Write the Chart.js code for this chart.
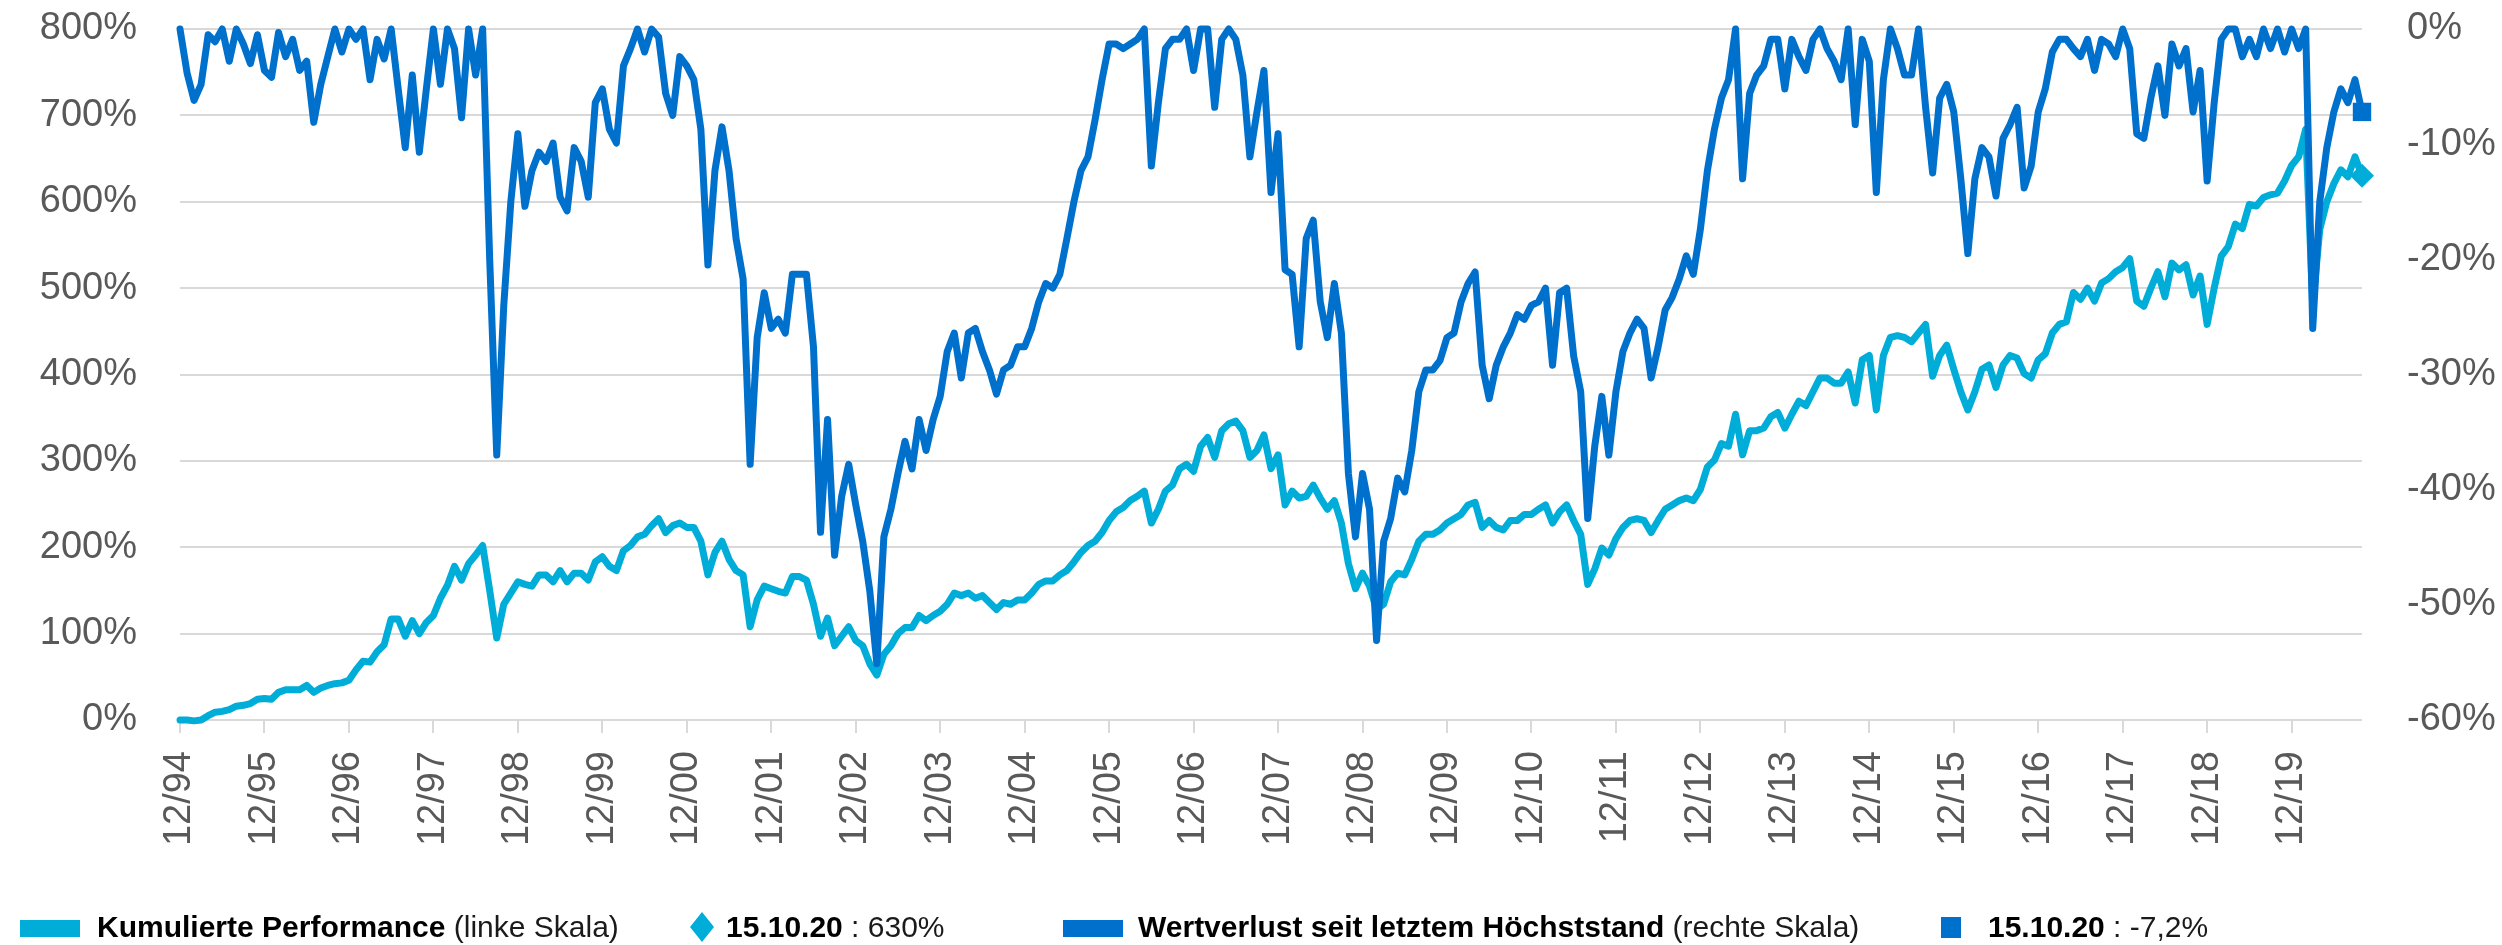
<!DOCTYPE html>
<html>
<head>
<meta charset="utf-8">
<script src="https://cdn.jsdelivr.net/npm/chart.js@4"></script>
<style>
  body { margin: 0; background: #fff; }
  #wrap { position: relative; width: 2502px; height: 945px; }
  #legend span { position: absolute; }
  .txt { top: 912px; font: 30px/30px "Liberation Sans", Arial, sans-serif; color: #1a1a1a; white-space: nowrap; }
  .txt b { color: #000; }
  .box { top: 920px; width: 60px; height: 17px; }
  .diamond { top: 912px; width: 24px; height: 30px; background: #00ADD8; clip-path: polygon(50% 0, 100% 50%, 50% 100%, 0 50%); }
  .sq { top: 917px; width: 20px; height: 21px; background: #0070CD; }
</style>
</head>
<body>
<div id="wrap">
  <canvas id="myChart" width="2502" height="945"></canvas>
  <div id="legend">
    <span class="box" style="left:20px;background:#00ADD8"></span>
    <span class="txt" style="left:97px"><b>Kumulierte Performance</b> (linke Skala)</span>
    <span class="diamond" style="left:690px"></span>
    <span class="txt" style="left:726px"><b>15.10.20</b> : 630%</span>
    <span class="box" style="left:1063px;background:#0070CD"></span>
    <span class="txt" style="left:1138px"><b>Wertverlust seit letztem Höchststand</b> (rechte Skala)</span>
    <span class="sq" style="left:1941px"></span>
    <span class="txt" style="left:1988px"><b>15.10.20</b> : -7,2%</span>
  </div>
</div>
<script>
// year ticks shown on the x axis (every December)
const yearTicks = ['12/94','12/95','12/96','12/97','12/98','12/99','12/00','12/01','12/02','12/03',
  '12/04','12/05','12/06','12/07','12/08','12/09','12/10','12/11','12/12','12/13',
  '12/14','12/15','12/16','12/17','12/18','12/19'];

// monthly values, 12/94 ... 10/20 (cumulative performance in %, left scale)
const performance = [
  0, 0, -1, 0, 5, 9, 10, 12, 16, 17, 19, 24,
  25, 24, 32, 35, 35, 35, 40, 32, 37, 40, 42, 43,
  46, 58, 68, 67, 79, 87, 117, 117, 97, 115, 100, 113,
  121, 141, 156, 178, 162, 181, 191, 202, 150, 95, 134, 147,
  160, 157, 155, 168, 168, 160, 173, 160, 170, 170, 162, 183,
  189, 178, 173, 196, 202, 212, 215, 225, 233, 217, 225, 228,
  223, 223, 207, 168, 194, 207, 186, 173, 168, 108, 139, 155,
  152, 149, 147, 166, 166, 162, 134, 97, 118, 86, 97, 108,
  92, 86, 65, 52, 76, 86, 100, 107, 107, 121, 115, 121,
  126, 134, 147, 144, 147, 141, 144, 136, 128, 136, 134, 139,
  139, 147, 157, 161, 161, 168, 173, 183, 194, 202, 207, 217,
  231, 241, 246, 254, 259, 265, 228, 244, 265, 272, 291, 296,
  288, 317, 327, 304, 335, 343, 346, 335, 304, 312, 330, 291,
  307, 249, 265, 257, 259, 272, 257, 244, 254, 228, 181, 152,
  170, 155, 128, 134, 160, 170, 168, 186, 207, 215, 215, 220,
  228, 233, 238, 249, 252, 223, 231, 223, 220, 231, 231, 238,
  238, 244, 249, 228, 241, 249, 231, 215, 157, 175, 199, 191,
  210, 223, 231, 233, 231, 217, 231, 244, 249, 254, 257, 254,
  267, 293, 301, 320, 317, 354, 307, 335, 335, 338, 351, 356,
  338, 354, 369, 364, 380, 396, 396, 390, 390, 403, 367, 417,
  422, 359, 422, 443, 445, 443, 438, 448, 458, 398, 422, 434,
  406, 380, 359, 380, 406, 411, 385, 411, 422, 419, 401, 396,
  417, 424, 448, 458, 461, 495, 487, 500, 485, 506, 511, 519,
  524, 534, 485, 479, 500, 519, 490, 529, 521, 527, 492, 514,
  458, 500, 537, 548, 574, 569, 597, 595, 605, 608, 610, 624,
  642, 652, 684, 480, 568, 600, 621, 637, 629, 652, 630
];

// drawdown since last high in %, right scale
const drawdown = [
  0, -3.8, -6.2, -4.8, -0.5, -1.1, 0, -2.8, 0, -1.3, -3, -0.5,
  -3.6, -4.2, -0.3, -2.4, -0.9, -3.6, -2.8, -8.1, -4.8, -2.4, 0, -2,
  0, -0.9, 0, -4.4, -0.9, -2.6, 0, -5.2, -10.3, -4, -10.7, -5.2,
  0, -4.8, 0, -1.7, -7.7, 0, -4, 0, -20, -37, -24, -15,
  -9.1, -15.4, -12.3, -10.7, -11.5, -9.9, -14.6, -15.8, -10.3, -11.5, -14.6, -6.4,
  -5.2, -8.7, -9.9, -3.2, -1.7, 0, -2, 0, -0.7, -5.6, -7.5, -2.4,
  -3.2, -4.4, -8.7, -20.5, -12.3, -8.5, -12.3, -18.2, -21.7, -37.8, -26.8, -22.9,
  -26, -25.2, -26.4, -21.3, -21.3, -21.3, -27.6, -43.7, -33.9, -45.7, -40.6, -37.8,
  -41.3, -44.5, -48.8, -55.1, -44.1, -41.7, -38.6, -35.8, -38.2, -33.9, -36.6, -33.9,
  -31.9, -28, -26.4, -30.3, -26.4, -26, -28, -29.6, -31.7, -29.6, -29.2, -27.6,
  -27.6, -26, -23.7, -22.1, -22.5, -21.3, -18.2, -15, -12.3, -11.1, -7.9, -4.4,
  -1.3, -1.3, -1.7, -1.3, -0.9, 0, -11.9, -6.4, -1.7, -0.9, -0.9, 0,
  -3.6, 0, 0, -6.8, -0.9, 0, -0.9, -4, -11.1, -7.2, -3.6, -14.2,
  -9.1, -20.9, -21.3, -27.6, -18.2, -16.6, -23.7, -26.8, -22.1, -26.4, -38.6, -44.1,
  -38.6, -41.7, -53.1, -44.5, -42.5, -39, -40.2, -36.6, -31.5, -29.6, -29.6, -28.8,
  -26.8, -26.4, -23.7, -22.1, -21.1, -29.2, -32.1, -29.2, -27.6, -26.4, -24.8, -25.2,
  -24, -23.7, -22.5, -29.2, -22.9, -22.5, -28.4, -31.5, -42.5, -36.2, -31.9, -37,
  -31.5, -28, -26.4, -25.2, -26, -30.3, -27.6, -24.4, -23.3, -21.7, -19.7, -21.3,
  -17.4, -12.3, -8.7, -6, -4.4, 0, -13, -5.6, -4, -3.2, -0.9, -0.9,
  -5.2, -0.9, -2.4, -3.6, -0.9, 0, -1.7, -2.8, -4.4, 0, -8.3, -0.9,
  -2.8, -14.2, -4.4, 0, -1.7, -4, -4, 0, -6.8, -12.5, -6, -4.8,
  -7.2, -13, -19.5, -13, -10.3, -11.1, -14.5, -9.5, -8.3, -6.8, -13.8, -11.9,
  -7.2, -5.2, -2, -0.9, -0.9, -1.7, -2.4, -0.9, -3.6, -0.9, -1.3, -2.4,
  0, -1.7, -9.1, -9.5, -6, -3.2, -7.5, -1.3, -3.2, -1.7, -7.2, -3.6,
  -13.2, -6.4, -0.9, 0, 0, -2.4, -0.9, -2.4, 0, -1.7, 0, -2,
  0, -1.7, 0, -26, -15, -10.3, -7.2, -5.2, -6.4, -4.4, -7.2
];

// month categories 12/94 .. 10/20
const months = [];
for (let i = 0; i < performance.length; i++) {
    const m = (11 + i) % 12 + 1;
    const y = (1994 + Math.floor((11 + i) / 12)) % 100;
    months.push(String(m).padStart(2, '0') + '/' + String(y).padStart(2, '0'));
}

const last = performance.length - 1;
const tickFont = { family: '"Liberation Sans", Arial, sans-serif', size: 38 };
const gridColor = '#d9d9d9';

// fixed axis sizes; tick padding must not push the plot area down
function fixWidth(w) {
    return function (s) {
        s.width = w;
        s.paddingTop = 0;
        s.paddingBottom = 0;
    };
}

const ctx = document.getElementById('myChart');

new Chart(ctx, {
    type: 'line',
    data: {
        labels: months,
        datasets: [{
            label: 'Wertverlust seit letztem Höchststand',
            data: drawdown,
            yAxisID: 'yRight',
            borderColor: '#0070CD',
            backgroundColor: '#0070CD',
            borderWidth: 7,
            borderJoinStyle: 'round',
            borderCapStyle: 'round',
            pointStyle: 'rect',
            pointRadius: c => c.dataIndex === last ? 13 : 0,
            pointBorderWidth: 0,
            clip: false,
            order: 0
        }, {
            label: 'Kumulierte Performance',
            data: performance,
            yAxisID: 'yLeft',
            borderColor: '#00ADD8',
            backgroundColor: '#00ADD8',
            borderWidth: 7,
            borderJoinStyle: 'round',
            borderCapStyle: 'round',
            pointStyle: 'rectRot',
            pointRadius: c => c.dataIndex === last ? 12 : 0,
            pointBorderWidth: 0,
            clip: false,
            order: 1
        }]
    },
    options: {
        responsive: false,
        animation: false,
        devicePixelRatio: 1,
        layout: { padding: { top: 29 } },
        plugins: {
            legend: { display: false },
            tooltip: { enabled: false }
        },
        scales: {
            x: {
                afterFit: s => { s.height = 225; },
                afterBuildTicks: s => { s.ticks = s.ticks.filter(t => t.value % 12 === 0); },
                border: { display: false },
                grid: { drawOnChartArea: false, drawTicks: true, tickLength: 13, color: gridColor, lineWidth: 2 },
                ticks: {
                    autoSkip: false, minRotation: 90, maxRotation: 90, padding: 18,
                    color: '#595959', font: tickFont,
                    callback: v => yearTicks[v / 12]
                }
            },
            yLeft: {
                position: 'left',
                min: 0, max: 800,
                afterFit: fixWidth(180),
                border: { display: false },
                grid: { color: gridColor, lineWidth: 2, drawTicks: false },
                ticks: { stepSize: 100, padding: 43, color: '#595959', font: tickFont, callback: v => v + '%' }
            },
            yRight: {
                position: 'right',
                min: -60, max: 0,
                afterFit: fixWidth(140),
                border: { display: false },
                grid: { display: false, drawTicks: false },
                ticks: { stepSize: 10, padding: 45, color: '#595959', font: tickFont, callback: v => v + '%' }
            }
        }
    }
});
</script>
</body>
</html>
